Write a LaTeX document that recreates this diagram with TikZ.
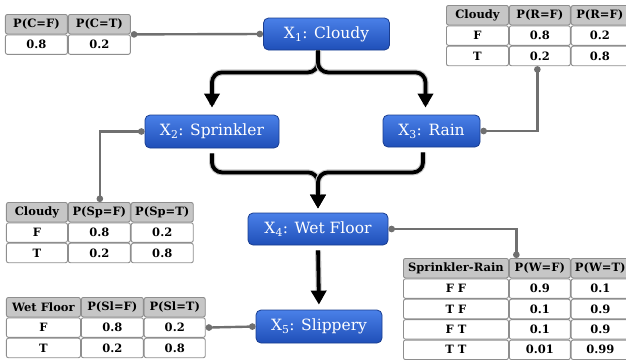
\documentclass[tikz,border=0pt]{standalone}
\usepackage{fontspec}
\setmainfont{DejaVu Serif}
\usetikzlibrary{arrows.meta,matrix}
\definecolor{nodetop}{HTML}{4A80E8}
\definecolor{nodebot}{HTML}{1F4FB8}
\definecolor{nodeline}{HTML}{1A3D8F}
\definecolor{hdrfill}{HTML}{C6C6C6}
\definecolor{cellline}{HTML}{8E8E8E}
\definecolor{linkgray}{HTML}{707070}

\begin{document}
\begin{tikzpicture}[x=1pt,y=-1pt,
 var/.style={draw=nodeline,line width=0.8pt,rounded corners=5pt,top color=nodetop,bottom color=nodebot,
  text=white,font=\fontsize{15.5}{18}\selectfont,inner sep=0pt},
 cell/.style={draw=cellline,line width=0.9pt,rounded corners=2pt,fill=white,inner sep=0pt,
  minimum height=19.5pt,anchor=center,font=\bfseries\fontsize{11.5}{13}\selectfont},
 cpt/.style={matrix of nodes,nodes={cell},inner sep=0pt,outer sep=0pt,row sep=0pt,column sep=0pt,
  anchor=north west,row 1/.style={nodes={fill=hdrfill}}},
 link/.style={{Circle[length=6.5pt]}-{Circle[length=6.5pt]},line width=2.4pt,draw=linkgray},
 flow/.style={-{Triangle[width=15pt,length=14pt]},line width=3.8pt,rounded corners=10pt,
  preaction={draw=gray!45,line width=6pt,-,shorten >=10pt}}]
\useasboundingbox (0,0) rectangle (626,359);
% variables
\node[var,minimum width=126pt,minimum height=32pt] (cloudy) at (326.5,34) {X\textsubscript{1}: Cloudy};
\node[var,minimum width=134pt,minimum height=33pt] (sprinkler) at (212,131.5) {X\textsubscript{2}: Sprinkler};
\node[var,minimum width=97pt,minimum height=32pt] (rain) at (431.5,131) {X\textsubscript{3}: Rain};
\node[var,minimum width=140pt,minimum height=32pt] (wet) at (318,229) {X\textsubscript{4}: Wet Floor};
\node[var,minimum width=126pt,minimum height=33pt] (slip) at (319,326.5) {X\textsubscript{5}: Slippery};
% tables
\matrix (ctab) [cpt,column 1/.style={nodes={minimum width=62pt}},column 2/.style={nodes={minimum width=62pt}}] at (5,14) {
P(C=F) & P(C=T) \\
0.8 & 0.2 \\};
\matrix (rtab) [cpt,column 1/.style={nodes={minimum width=62pt}},column 2/.style={nodes={minimum width=61pt}},
 column 3/.style={nodes={minimum width=57pt}}] at (446,5) {
Cloudy & P(R=F) & P(R=F) \\
F & 0.8 & 0.2 \\
T & 0.2 & 0.8 \\};
\matrix (sptab) [cpt,column 1/.style={nodes={minimum width=61pt}},column 2/.style={nodes={minimum width=62pt}},
 column 3/.style={nodes={minimum width=62pt}}] at (6,202) {
Cloudy & P(Sp=F) & P(Sp=T) \\
F & 0.8 & 0.2 \\
T & 0.2 & 0.8 \\};
\matrix (wtab) [cpt,column 1/.style={nodes={minimum width=105pt}},column 2/.style={nodes={minimum width=61pt}},
 column 3/.style={nodes={minimum width=58pt}}] at (403,258) {
Sprinkler-Rain & P(W=F) & P(W=T) \\
F F & 0.9 & 0.1 \\
T F & 0.1 & 0.9 \\
F T & 0.1 & 0.9 \\
T T & 0.01 & 0.99 \\};
\matrix (sltab) [cpt,column 1/.style={nodes={minimum width=74pt}},column 2/.style={nodes={minimum width=62pt}},
 column 3/.style={nodes={minimum width=61pt}}] at (6,297) {
Wet Floor & P(Sl=F) & P(Sl=T) \\
F & 0.8 & 0.2 \\
T & 0.2 & 0.8 \\};
% links to tables
\draw[link] (ctab.east) -- (cloudy.west);
\draw[link] (rtab.south) |- (rain.east);
\draw[link] (sprinkler.west) -| (sptab.north);
\draw[link] (wet.east) -| (wtab.north);
\draw[link] (sltab.east) -- (slip.west);
% dependencies
\draw[flow,shorten >=7pt] ([xshift=-8.5pt]cloudy.south) -- ++(0,22) -| (sprinkler.north);
\draw[flow,shorten >=7pt] ([xshift=-8.5pt]cloudy.south) -- ++(0,22) -| ([xshift=-6pt]rain.north);
\draw[flow,shorten <=5pt,shorten >=4pt] (sprinkler.south) -- ++(0,24) -| (wet.north);
\draw[flow,shorten <=5pt,shorten >=4pt] ([xshift=-8.5pt]rain.south) -- ++(0,25) -| (wet.north);
\draw[flow,shorten <=5pt,shorten >=5pt] (wet.south) -- (slip.north);
\end{tikzpicture}
\end{document}
